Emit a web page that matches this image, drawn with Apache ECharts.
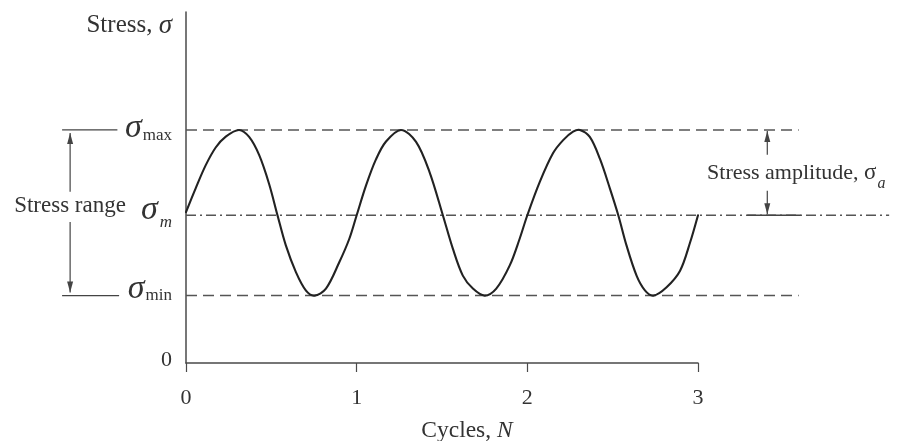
<!DOCTYPE html>
<html>
<head>
<meta charset="utf-8">
<title>Stress cycle</title>
<script src="https://cdn.jsdelivr.net/npm/echarts@6/dist/echarts.min.js"></script>
<style>
  html, body { margin: 0; padding: 0; background: #fff; }
  #chart { width: 903px; height: 441px; }
</style>
</head>
<body>
<div id="chart"></div>
<script>
// Sampled stress wave: position in cycles (N) and stress value
const cycles = [0, 0.056, 0.115, 0.174, 0.233, 0.311, 0.370, 0.429, 0.487, 0.536,
  0.585, 0.644, 0.702, 0.752, 0.820, 0.898, 0.957, 1.000, 1.055, 1.113,
  1.172, 1.260, 1.348, 1.427, 1.505, 1.564, 1.622, 1.681, 1.750, 1.818,
  1.897, 1.955, 2.000, 2.073, 2.151, 2.210, 2.268, 2.308, 2.366, 2.425,
  2.484, 2.533, 2.581, 2.640, 2.689, 2.738, 2.816, 2.895, 2.954, 3.000];
const stress = [43.0, 49.7, 56.3, 61.4, 64.5, 66.4, 64.4, 59.2, 51.0, 42.1,
  33.5, 25.9, 20.7, 19.2, 21.2, 28.7, 35.4, 42.1, 50.6, 58.0,
  63.1, 66.4, 63.0, 54.4, 42.1, 32.5, 24.9, 21.2, 19.2, 21.2,
  27.8, 35.4, 42.1, 51.6, 59.8, 63.5, 65.9, 66.4, 64.4, 58.2,
  49.7, 42.1, 33.5, 24.9, 20.7, 19.2, 21.6, 26.3, 34.4, 42.1];

// Characteristic stress levels
const sigmaMin = 19.2;
const sigmaMean = 42.1;
const sigmaMax = 66.4;

// Axis ticks and labels
const xTicks = [0, 1, 2, 3];
const yLevels = [0, sigmaMin, sigmaMean, sigmaMax];
const yLabels = ['{z|0}', '{s1|σ}{u1|min}', '{s2|σ}{i2|m}', '{s3|σ}{u3|max}'];

const font = "'Liberation Serif', 'DejaVu Serif', serif";
const ink = '#333';
const lineInk = '#555';

const wave = cycles.map((c, i) => [c, stress[i]]);

const chart = echarts.init(document.getElementById('chart'), null, { renderer: 'canvas' });

chart.setOption({
  backgroundColor: '#fff',
  animation: false,
  grid: { left: 186, right: 205, top: 12, bottom: 78, outerBoundsMode: 'none' },
  xAxis: {
    type: 'value', min: 0, max: 3, interval: 1,
    splitLine: { show: false },
    axisLine: { lineStyle: { color: '#4a4a4a', width: 1.5 } },
    axisTick: { show: true, inside: false, length: 9, lineStyle: { color: '#4a4a4a', width: 1.2 } },
    axisLabel: {
      margin: 24, fontFamily: font, fontSize: 22, color: ink,
      formatter: v => (xTicks.indexOf(v) >= 0 ? String(v) : '')
    },
    name: 'Cycles, {i|N}', nameLocation: 'middle', nameGap: 56,
    nameTextStyle: {
      fontFamily: font, fontSize: 23.5, color: ink, padding: [0, 0, 0, 50],
      rich: { i: { fontFamily: font, fontSize: 23.5, fontStyle: 'italic', color: ink } }
    }
  },
  yAxis: {
    type: 'value', min: 0, max: 100,
    splitLine: { show: false },
    axisLine: { show: true, lineStyle: { color: '#4a4a4a', width: 1.5 } },
    axisTick: { show: false },
    axisLabel: {
      customValues: yLevels, margin: 14, fontFamily: font, color: ink,
      formatter: v => yLabels[yLevels.indexOf(v)] || '',
      rich: {
        z: { fontFamily: font, fontSize: 22, color: ink, padding: [0, 0, 6, 0] },
        s1: { fontFamily: font, fontSize: 34, fontStyle: 'italic', color: ink, padding: [0, 0, 14, 0] },
        u1: { fontFamily: font, fontSize: 17, color: ink, padding: [0, 0, 0, 1] },
        s2: { fontFamily: font, fontSize: 34, fontStyle: 'italic', color: ink, padding: [0, 0, 10, 0] },
        i2: { fontFamily: font, fontSize: 17, fontStyle: 'italic', color: ink, padding: [15, 0, 0, 2] },
        s3: { fontFamily: font, fontSize: 34, fontStyle: 'italic', color: ink, padding: [0, 0, 3, 0] },
        u3: { fontFamily: font, fontSize: 17, color: ink, padding: [11, 0, 0, 1] }
      }
    },
    name: 'Stress, {i|σ}', nameLocation: 'end', nameGap: -27,
    nameTextStyle: {
      fontFamily: font, fontSize: 25, color: ink, align: 'right', verticalAlign: 'bottom',
      padding: [0, 14, 0, 0],
      rich: { i: { fontFamily: font, fontSize: 27, fontStyle: 'italic', color: ink } }
    }
  },
  series: [
    {
      // Reference levels and the stress wave itself
      type: 'custom', clip: false, silent: true, z: 3, data: [[0, 0]],
      renderItem: function (params, api) {
        const P = (x, y) => api.coord([x, y]);
        const level = (y, xEnd, dash) => {
          const a = P(0, y), b = P(xEnd, y);
          return {
            type: 'line', shape: { x1: a[0], y1: a[1], x2: b[0], y2: b[1] },
            style: { stroke: lineInk, lineWidth: 1.5, lineDash: dash }
          };
        };
        return {
          type: 'group',
          children: [
            level(sigmaMax, 3.59, [11, 6]),
            level(sigmaMin, 3.59, [11, 6]),
            level(sigmaMean, 4.12, [10, 4, 2, 4]),
            {
              type: 'polyline', z2: 5,
              shape: { points: wave.map(p => P(p[0], p[1])), smooth: 0.33 },
              style: { stroke: '#222', lineWidth: 2.1, fill: null, lineJoin: 'round', lineCap: 'round' }
            }
          ]
        };
      }
    },
    {
      // Range and amplitude dimension arrows with their captions
      type: 'custom', clip: false, silent: true, z: 5, data: [[0, 0]],
      renderItem: function (params, api) {
        const P = (x, y) => api.coord([x, y]);
        const stroke = '#444';
        const seg = (a, b, w) => ({
          type: 'line', shape: { x1: a[0], y1: a[1], x2: b[0], y2: b[1] },
          style: { stroke: stroke, lineWidth: w || 1.2 }
        });
        const head = (tip, dir) => ({
          type: 'polygon',
          shape: { points: [[tip[0], tip[1]], [tip[0] - 3, tip[1] - dir * 11], [tip[0] + 3, tip[1] - dir * 11]] },
          style: { fill: stroke }
        });
        const shift = (p, dy) => [p[0], p[1] + dy];

        const xL = -0.679, xR = 3.406;
        const lTop = shift(P(xL, sigmaMax), 3);
        const lBot = shift(P(xL, sigmaMin), -3);
        const rTop = shift(P(xR, sigmaMax), 1);
        const rBot = shift(P(xR, sigmaMean), -1);

        const rangeAt = P(-0.352, 44.7);
        const ampAt = P(3.053, 54.2);

        return {
          type: 'group',
          children: [
            seg(P(-0.726, sigmaMax), P(-0.402, sigmaMax)),
            seg(P(-0.726, sigmaMin), P(-0.392, sigmaMin)),
            seg(P(3.288, sigmaMean), P(3.601, sigmaMean), 1.5),
            seg(lTop, P(xL, 48.8)), head(lTop, -1),
            seg(P(xL, 40.2), lBot), head(lBot, 1),
            seg(rTop, P(xR, 59.3)), head(rTop, -1),
            seg(P(xR, 49.1), rBot), head(rBot, 1),
            {
              type: 'text', x: rangeAt[0], y: rangeAt[1],
              style: {
                text: 'Stress range', fontFamily: font, fontSize: 23, fill: ink,
                align: 'right', verticalAlign: 'middle'
              }
            },
            {
              type: 'text', x: ampAt[0], y: ampAt[1],
              style: {
                text: 'Stress amplitude, {g|σ}{a|a}', fontFamily: font, fontSize: 22, fill: ink,
                align: 'left', verticalAlign: 'middle',
                rich: {
                  g: { fontFamily: font, fontSize: 23, fill: ink },
                  a: { fontFamily: font, fontSize: 16, fontStyle: 'italic', fill: ink, padding: [22, 0, 0, 1] }
                }
              }
            }
          ]
        };
      }
    }
  ]
});
</script>
</body>
</html>
